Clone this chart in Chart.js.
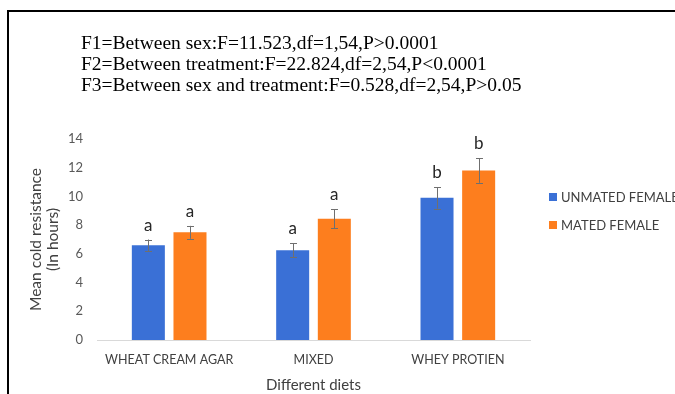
<!DOCTYPE html>
<html>
<head>
<meta charset="utf-8">
<script src="https://cdn.jsdelivr.net/npm/chart.js@4.4.1/dist/chart.umd.min.js"></script>
<style>
  html, body { margin: 0; padding: 0; background: #ffffff; }
  #wrap { width: 675px; height: 394px; position: relative; }
</style>
</head>
<body>
<div id="wrap"><canvas id="c" width="675" height="394"></canvas></div>
<script>
// Diets on the x axis
const diets = ['WHEAT CREAM AGAR', 'MIXED', 'WHEY PROTIEN'];

// Mean cold resistance (hours) and standard errors
const unmatedMeans = [6.6, 6.25, 9.9];
const unmatedErr = [0.4, 0.5, 0.75];
const matedMeans = [7.5, 8.45, 11.8];
const matedErr = [0.45, 0.65, 0.85];

// Significance letters above each bar
const unmatedSig = ['a', 'a', 'b'];
const matedSig = ['a', 'a', 'b'];

// Two-way ANOVA summary lines
const anovaLines = [
  'F1=Between sex:F=11.523,df=1,54,P>0.0001',
  'F2=Between treatment:F=22.824,df=2,54,P<0.0001',
  'F3=Between sex and treatment:F=0.528,df=2,54,P>0.05'
];

const seriesNames = ['UNMATED FEMALE', 'MATED FEMALE'];
const blue = '#3a70d6';
const orange = '#fd7e1e';
const sansFont = 'Lato, "Open Sans", sans-serif';

const errorsBySet = [unmatedErr, matedErr];
const sigBySet = [unmatedSig, matedSig];

// Frame, ANOVA text and legend
const decorPlugin = {
  id: 'decor',
  beforeDraw(chart) {
    const ctx = chart.ctx;
    ctx.save();
    ctx.fillStyle = '#ffffff';
    ctx.fillRect(0, 0, chart.width, chart.height);
    ctx.strokeStyle = '#000000';
    ctx.lineWidth = 2;
    ctx.beginPath();
    ctx.moveTo(8, chart.height);
    ctx.lineTo(8, 11);
    ctx.lineTo(chart.width, 11);
    ctx.stroke();
    ctx.restore();
  },
  afterDraw(chart) {
    const ctx = chart.ctx;
    ctx.save();
    ctx.fillStyle = '#000000';
    ctx.font = '19.5px "Liberation Serif", "Times New Roman", serif';
    ctx.textBaseline = 'alphabetic';
    ctx.textAlign = 'left';
    anovaLines.forEach((t, i) => ctx.fillText(t, 81, 49 + i * 21));

    // legend
    ctx.font = '13px ' + sansFont;
    ctx.textBaseline = 'middle';
    chart.data.datasets.forEach((ds, i) => {
      const y = 197 + i * 28;
      ctx.fillStyle = ds.backgroundColor;
      ctx.fillRect(549, y - 4, 8, 8);
      ctx.fillStyle = '#404040';
      ctx.fillText(ds.label, 561, y + 0.5);
    });
    ctx.restore();
  }
};

// Error bars and significance letters drawn from the bar elements
const errorBarPlugin = {
  id: 'errorBars',
  afterDatasetsDraw(chart) {
    const ctx = chart.ctx;
    const yScale = chart.scales.y;
    ctx.save();
    chart.data.datasets.forEach((ds, di) => {
      const meta = chart.getDatasetMeta(di);
      meta.data.forEach((bar, j) => {
        const v = ds.data[j];
        const e = errorsBySet[di][j];
        const yTop = yScale.getPixelForValue(v + e);
        const yBot = yScale.getPixelForValue(v - e);
        const x = Math.round(bar.x) + 0.5;
        ctx.strokeStyle = '#6f6f6f';
        ctx.lineWidth = 1;
        ctx.beginPath();
        ctx.moveTo(x, yTop); ctx.lineTo(x, yBot);
        ctx.moveTo(x - 3.5, Math.round(yTop) + 0.5); ctx.lineTo(x + 3.5, Math.round(yTop) + 0.5);
        ctx.moveTo(x - 3.5, Math.round(yBot) + 0.5); ctx.lineTo(x + 3.5, Math.round(yBot) + 0.5);
        ctx.stroke();

        ctx.fillStyle = '#262626';
        ctx.font = '17px ' + sansFont;
        ctx.textAlign = 'center';
        ctx.textBaseline = 'alphabetic';
        ctx.fillText(sigBySet[di][j], bar.x, yTop - 9);
      });
    });
    ctx.restore();
  }
};

new Chart(document.getElementById('c'), {
  type: 'bar',
  data: {
    labels: diets,
    datasets: [
      { label: seriesNames[0], data: unmatedMeans, backgroundColor: blue, borderWidth: 0 },
      { label: seriesNames[1], data: matedMeans, backgroundColor: orange, borderWidth: 0 }
    ]
  },
  options: {
    responsive: false,
    animation: false,
    devicePixelRatio: 1,
    layout: { padding: { left: 27, right: 145, top: 139, bottom: 0 } },
    categoryPercentage: 0.577,
    barPercentage: 0.793,
    plugins: {
      legend: { display: false },
      tooltip: { enabled: false }
    },
    scales: {
      x: {
        grid: { display: false, drawTicks: false },
        border: { display: true, color: '#d9d9d9', width: 1 },
        ticks: { color: '#404040', font: { family: sansFont, size: 12.5 }, padding: 12 },
        title: { display: true, text: 'Different diets', color: '#404040', font: { family: sansFont, size: 15 }, padding: { top: 4, bottom: 0 } },
        afterFit(scale) { scale.height = 54; }
      },
      y: {
        min: 0,
        max: 14,
        ticks: { stepSize: 2, color: '#595959', font: { family: sansFont, size: 13 }, padding: 14 },
        grid: { display: false, drawTicks: false },
        border: { display: false },
        title: { display: true, text: ['Mean cold resistance', '(In hours)'], color: '#404040', font: { family: sansFont, size: 15.5, lineHeight: 1.1 }, padding: 0 },
        afterFit(scale) { scale.width = 70; }
      }
    }
  },
  plugins: [decorPlugin, errorBarPlugin]
});
</script>
</body>
</html>
